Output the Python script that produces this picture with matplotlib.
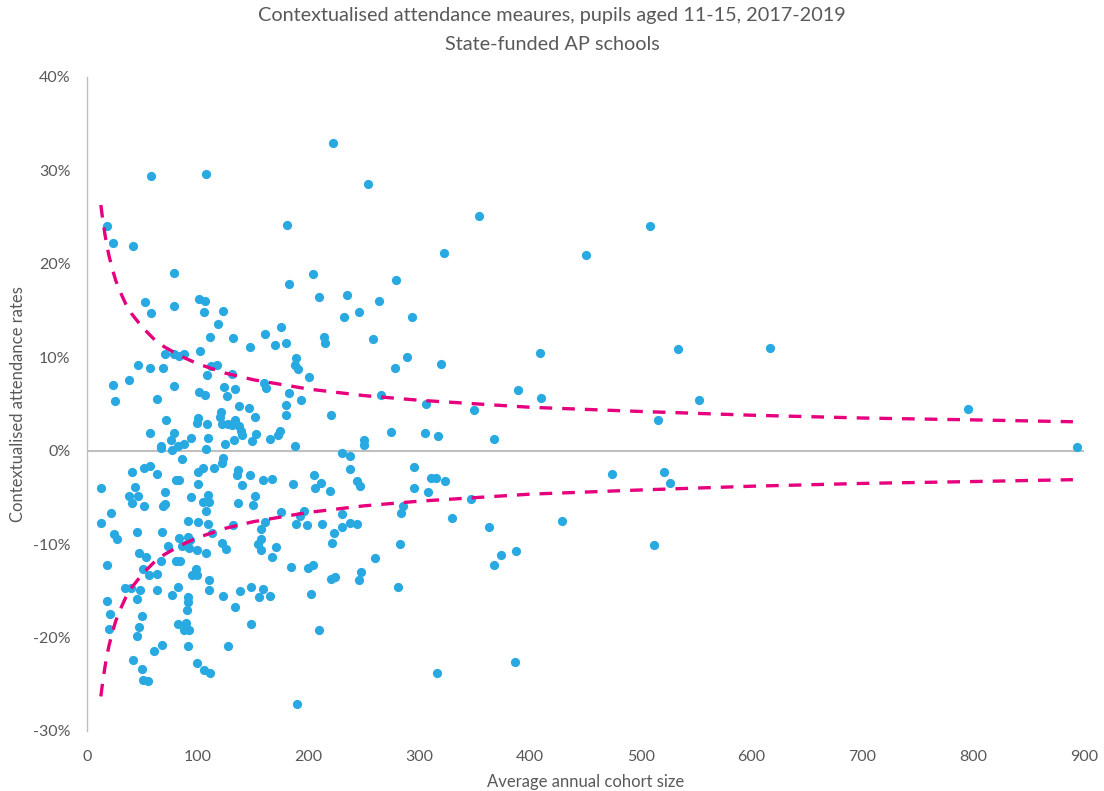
import matplotlib
matplotlib.use("Agg")
import matplotlib.pyplot as plt
from matplotlib.ticker import FuncFormatter, MultipleLocator

# Average annual cohort size per school (x) and contextualised attendance rate in % (y)
cohort_size = [
    57.8, 107.7, 18.3, 23.2, 41.5, 78.8, 52.1, 57.8, 78.2, 101.4, 106.5, 105.9, 118.7,
    111.3, 70.1, 78.8, 82.7, 87.5, 101.7, 45.7, 56.9, 68.6, 111.9, 117.3, 108.6,
    23.2, 38.2, 78.8, 25.0, 63.2, 101.1, 106.2, 71.6, 100.5, 99.6, 108.3, 56.9,
    78.8, 75.8, 93.6, 108.9, 67.1, 66.8, 76.4, 81.8, 87.2, 107.1, 85.7, 40.6,
    51.7, 57.1, 63.4, 99.9, 104.4, 114.3, 12.6, 43.6, 80.6, 83.3, 100.5, 37.9,
    45.7, 40.6, 51.7, 70.4, 68.9, 70.4, 93.9, 108.9, 105.0, 110.1, 107.4, 21.9,
    12.6, 24.7, 27.4, 45.1, 67.4, 90.9, 99.9, 109.5, 112.8, 82.7, 91.2, 93.2,
    73.1, 85.7, 88.7, 91.8, 99.3, 107.7, 46.9, 53.5, 17.8, 67.1, 80.6, 83.7,
    50.2, 55.6, 63.4, 98.4, 95.0, 99.3, 110.1, 34.0, 39.7, 47.5, 62.9, 76.4,
    82.4, 110.4, 18.3, 44.8, 91.2, 91.5, 90.3, 20.8, 49.9, 81.8, 89.6, 87.5,
    91.8, 46.7, 20.1, 44.8, 67.4, 60.8, 90.9, 41.5, 49.9, 99.0, 105.6, 111.0,
    50.5, 54.8,
    221.7, 180.8, 203.7, 182.3, 209.7, 234.7, 122.5, 232.0, 175.4,
    132.0, 160.9, 147.1, 169.7, 179.9, 213.6, 214.8, 188.6, 188.0, 190.4, 200.1,
    131.1, 159.5, 161.6, 123.4, 133.6, 126.1, 182.3, 193.4, 179.9, 179.3, 219.9,
    136.9, 145.9, 151.3, 120.9, 120.3, 121.8, 127.3, 130.9, 133.9, 137.2, 139.0,
    139.9, 152.3, 132.7, 124.8, 148.6, 165.2, 172.4, 174.5, 187.4, 230.4, 122.7,
    121.8, 136.0, 135.1, 146.8, 139.6, 158.8, 166.9, 186.2, 204.9, 211.5, 205.5,
    219.3, 151.9, 149.5, 136.0, 174.8, 196.1, 192.0, 230.4,
    131.8, 160.6, 188.9, 198.3, 212.1, 229.9, 223.0, 220.8, 121.8, 125.5, 157.3,
    157.3, 154.1, 156.8, 170.8, 167.2, 183.8, 199.7, 204.0, 219.9, 223.8, 123.0,
    137.8, 147.7, 158.8, 155.2, 165.2, 133.8, 201.8, 148.3, 209.4, 127.0, 189.8,
    253.3, 354.1, 321.9, 278.9, 263.5, 245.8, 293.0, 257.9, 289.3, 278.0, 319.5,
    265.0, 305.7, 349.0,
    249.7, 249.7, 274.4, 304.8, 317.1, 367.0, 237.7, 237.1, 243.4, 246.4, 295.4,
    294.9, 307.5, 310.8, 315.0, 323.4, 346.6, 285.2, 283.4, 237.7, 244.0, 329.4,
    362.8, 282.8, 259.9, 367.3, 247.0, 245.8, 280.7, 316.2,
    508.1, 450.4, 408.6, 533.7, 617.0, 389.0, 409.7, 552.3, 515.1, 473.5, 520.5,
    526.4, 428.4, 386.9, 374.0, 511.5, 795.4, 893.5, 386.3,
]
attendance_pct = [
    29.4, 29.6, 24.1, 22.2, 21.9, 19.0, 15.9, 14.7, 15.5, 16.2, 16.0, 14.9, 13.6,
    12.2, 10.4, 10.3, 10.1, 10.3, 10.7, 9.2, 8.8, 8.8, 9.1, 9.2, 8.1,
    7.0, 7.6, 6.9, 5.35, 5.5, 6.3, 6.0, 3.3, 3.5, 3.0, 2.9, 1.9,
    1.9, 1.1, 1.35, 1.4, 0.5, 0.3, 0.07, 0.46, 0.7, 0.2, -0.86, -2.25,
    -1.8, -1.6, -2.5, -2.25, -1.8, -1.9, -3.96, -3.9, -3.1, -3.1, -3.6, -4.8,
    -4.8, -5.6, -5.96, -4.4, -5.96, -5.7, -5.0, -4.7, -5.5, -5.5, -6.5, -6.7,
    -7.74, -8.9, -9.4, -8.7, -8.7, -7.5, -7.67, -7.85, -8.85, -9.3, -9.2, -9.56,
    -10.2, -10.2, -10.1, -10.4, -10.6, -10.95, -11.0, -11.4, -12.2, -11.8, -11.8, -11.85,
    -12.7, -13.3, -13.2, -12.7, -13.3, -13.3, -13.8, -14.7, -14.7, -14.9, -14.9, -15.4,
    -14.6, -14.9, -16.05, -15.9, -15.7, -16.2, -17.05, -17.5, -17.7, -18.5, -18.4, -19.2,
    -19.2, -18.9, -19.1, -19.8, -20.8, -21.4, -20.9, -22.4, -23.4, -22.7, -23.5, -23.8,
    -24.5, -24.65,
    32.9, 24.2, 18.9, 17.8, 16.4, 16.7, 15.0, 14.3, 13.2,
    12.1, 12.45, 11.06, 11.35, 11.5, 12.2, 11.5, 9.95, 9.2, 8.7, 7.9,
    8.2, 7.3, 6.7, 6.8, 6.6, 5.85, 6.2, 5.4, 4.9, 3.85, 3.85,
    4.8, 4.6, 3.6, 4.1, 3.6, 2.85, 2.85, 2.75, 3.3, 2.6, 2.1,
    1.7, 1.8, 1.2, 0.7, 1.0, 1.3, 1.7, 2.1, 0.46, -0.25, -0.8,
    -1.35, -2.1, -2.6, -2.6, -3.7, -3.1, -3.0, -3.6, -2.6, -3.5, -4.0,
    -4.3, -4.9, -5.8, -5.6, -6.6, -6.45, -7.0, -6.8,
    -7.95, -7.6, -7.85, -8.0, -7.8, -8.2, -8.85, -9.9, -9.9, -10.55, -8.4,
    -9.45, -10.0, -10.6, -10.35, -11.35, -12.45, -12.6, -12.2, -13.7, -13.5, -15.5,
    -15.0, -14.6, -14.85, -15.7, -15.6, -16.7, -15.3, -18.6, -19.2, -20.9, -27.1,
    28.6, 25.1, 21.2, 18.3, 16.0, 14.8, 14.3, 12.0, 10.0, 8.8, 9.3,
    5.96, 5.0, 4.35,
    1.18, 0.64, 2.0, 1.9, 1.57, 1.25, -0.57, -2.0, -3.2, -3.75, -1.7,
    -4.0, -4.4, -2.9, -2.9, -3.2, -5.2, -5.9, -6.7, -7.7, -7.8, -7.2,
    -8.2, -10.0, -11.45, -12.2, -13.0, -13.8, -14.6, -23.8,
    24.0, 20.9, 10.5, 10.9, 11.0, 6.5, 5.6, 5.4, 3.3, -2.5, -2.3,
    -3.5, -7.5, -10.7, -11.2, -10.06, 4.5, 0.4, -22.6,
]

# Funnel control limits (+/- %) at selected cohort sizes
limit_size = [12.5, 14, 16, 18, 20, 23, 26, 30, 35, 40, 50, 60, 70, 85, 100,
              125, 150, 200, 250, 300, 400, 500, 600, 700, 800, 890]
limit_pct = [26.3, 24.9, 23.3, 21.9, 20.8, 19.4, 18.2, 17.0, 15.7, 14.7, 13.2,
             12.0, 11.1, 10.1, 9.3, 8.3, 7.6, 6.6, 5.9, 5.4, 4.65, 4.2, 3.8,
             3.5, 3.3, 3.1]

plt.rcParams['font.family'] = ['Lato', 'DejaVu Sans']
text_grey = '#595959'
axis_grey = '#BFBFBF'
dot_blue = '#29A9E1'
limit_pink = '#E6007E'

W, H = 1104, 791
fig = plt.figure(figsize=(W / 100, H / 100), dpi=100)
ax = fig.add_axes([87 / W, 1 - 731 / H, (1084 - 87) / W, (731 - 77) / H])

ax.axhline(0, color=axis_grey, lw=1.5, zorder=1)
ax.scatter(cohort_size, attendance_pct, s=44, color=dot_blue,
           linewidths=0, zorder=3)
ax.plot(limit_size, limit_pct, color=limit_pink, lw=2.4,
        dashes=(3.8, 3.0), solid_capstyle='butt', zorder=4)
ax.plot(limit_size, [-v for v in limit_pct], color=limit_pink, lw=2.4,
        dashes=(3.8, 3.0), solid_capstyle='butt', zorder=4)

ax.set_xlim(0, 900)
ax.set_ylim(-30, 40)
ax.xaxis.set_major_locator(MultipleLocator(100))
ax.yaxis.set_major_locator(MultipleLocator(10))
ax.yaxis.set_major_formatter(FuncFormatter(lambda v, p: f"{v:.0f}%".replace('\u2212', '-')))

for side in ('top', 'right', 'bottom'):
    ax.spines[side].set_visible(False)
ax.spines['left'].set_color(axis_grey)
ax.spines['left'].set_linewidth(1.0)

ax.tick_params(axis='both', length=0, colors=text_grey, labelsize=11.5)
ax.tick_params(axis='y', pad=12)
ax.tick_params(axis='x', pad=14)

ax.set_xlabel('Average annual cohort size', color=text_grey, fontsize=12, labelpad=7)
ax.set_ylabel('Contextualised attendance rates', color=text_grey, fontsize=12, labelpad=5)

fig.text(0.5, 1 - 16 / H, 'Contextualised attendance meaures, pupils aged 11-15, 2017-2019',
         ha='center', va='center', color=text_grey, fontsize=14.3)
fig.text(0.5, 1 - 44 / H, 'State-funded AP schools',
         ha='center', va='center', color=text_grey, fontsize=14.3)

fig.savefig('out.png', dpi=100, facecolor='white')
